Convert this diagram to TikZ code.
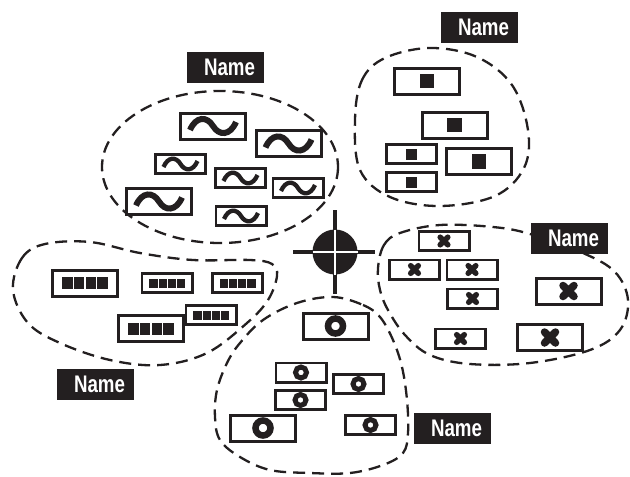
\documentclass[tikz,border=0pt]{standalone}
\usepackage{fontspec}
\newfontfamily\lblfont{Liberation Sans}
\definecolor{ink}{RGB}{35,31,32}
\begin{document}
\begin{tikzpicture}[x=1pt,y=-1pt,
  box/.style={draw=ink, line width=3pt, fill=white, inner sep=0pt},
  bigbox/.style={box, minimum width=65pt, minimum height=26pt},
  smallbox/.style={box, line width=2.6pt, minimum width=50.4pt, minimum height=19.4pt},
  blob/.style={draw=ink, line width=2.3pt, dash pattern=on 12pt off 7pt},
  lbl/.style={fill=ink, text=white, minimum width=77pt, minimum height=31pt, inner sep=0pt,
    font=\lblfont\bfseries\fontsize{24}{24}\selectfont},
  bigtilde/.pic={\draw[ink, line width=6pt] (-23,4) .. controls (-17,-10) and (-6,-10) .. (0,0) .. controls (6,10) and (17,10) .. (23,-4);},
  smalltilde/.pic={\draw[ink, line width=4.3pt] (-17,3) .. controls (-12.5,-7.5) and (-4.5,-7.5) .. (0,0) .. controls (4.5,7.5) and (12.5,7.5) .. (17,-3);},
  bigsq/.pic={\fill[ink] (-7.2,-7.2) rectangle (7.2,7.2);},
  smallsq/.pic={\fill[ink] (-5.5,-5.5) rectangle (5.5,5.5);},
  bigbar/.pic={\fill[ink] (-23,-6) rectangle (23,6);
    \draw[white, line width=1.2pt] (-11.5,-6) -- (-11.5,6) (0,-6) -- (0,6) (11.5,-6) -- (11.5,6);},
  smallbar/.pic={\fill[ink] (-18,-4.5) rectangle (18,4.5);
    \draw[white, line width=1pt] (-9,-4.5) -- (-9,4.5) (0,-4.5) -- (0,4.5) (9,-4.5) -- (9,4.5);},
  bigx/.pic={\draw[ink, line width=7.5pt, line cap=round] (-5.5,-5.5) -- (5.5,5.5) (-5.5,5.5) -- (5.5,-5.5);},
  smallx/.pic={\draw[ink, line width=5.5pt, line cap=round] (-3.8,-3.8) -- (3.8,3.8) (-3.8,3.8) -- (3.8,-3.8);},
  bigring/.pic={\draw[ink, line width=6.5pt] (0,0) circle[radius=7.5];},
  smallring/.pic={\draw[ink, line width=5pt] (0,0) circle[radius=5.5];}
]
\useasboundingbox[fill=white] (0,0) rectangle (630,477);

% ---- dashed group outlines ----
\draw[blob] (220,167) ellipse[x radius=118, y radius=76];
\draw[blob] plot[smooth cycle, tension=0.6] coordinates {(355,120) (362,80) (385,58) (430,48) (477,57) (512,85) (528,130) (524,168) (495,196) (440,206) (390,197) (360,170)};
\draw[blob] plot[smooth cycle, tension=0.6] coordinates {(13,290) (22,258) (45,244) (90,242) (140,253) (193,260) (250,260) (272,264) (277,276) (268,300) (247,323) (207,353) (160,365) (110,360) (60,343) (28,323)};
\draw[blob] plot[smooth cycle, tension=0.6] coordinates {(378,268) (384,245) (400,233) (440,225) (493,227) (530,234) (583,253) (615,272) (628,300) (620,330) (590,350) (530,363) (470,364) (430,355) (405,335) (388,310) (380,290)};
\draw[blob] plot[smooth cycle, tension=0.6] coordinates {(333,297) (363,305) (380,317) (393,340) (402,367) (407,400) (408,433) (403,453) (383,465) (350,473) (310,473) (270,470) (240,457) (220,440) (215,417) (217,390) (227,363) (240,343) (263,320) (297,303)};

% ---- tilde group ----
\node[bigbox] (t1) at (213,126) {};
\node[bigbox] (t2) at (288.5,143.5) {};
\node[smallbox] (t3) at (180.5,164) {};
\node[smallbox] (t4) at (240.5,178) {};
\node[smallbox] (t5) at (298,188) {};
\node[bigbox] (t6) at (159,201.5) {};
\node[smallbox] (t7) at (241,216) {};
\pic at (t1) {bigtilde}; \pic at (t2) {bigtilde}; \pic at (t6) {bigtilde};
\pic at (t3) {smalltilde}; \pic at (t4) {smalltilde}; \pic at (t5) {smalltilde}; \pic at (t7) {smalltilde};

% ---- square group ----
\node[bigbox] (s1) at (427,81) {};
\node[bigbox] (s2) at (454.5,125) {};
\node[smallbox] (s3) at (411.5,154) {};
\node[bigbox] (s4) at (479,161.5) {};
\node[smallbox] (s5) at (411.5,182) {};
\pic at (s1) {bigsq}; \pic at (s2) {bigsq}; \pic at (s4) {bigsq};
\pic at (s3) {smallsq}; \pic at (s5) {smallsq};

% ---- bar group ----
\node[bigbox] (b1) at (85,283) {};
\node[smallbox] (b2) at (167,283) {};
\node[smallbox] (b3) at (237.5,283) {};
\node[bigbox] (b5) at (151,328.5) {};
\node[smallbox] (b4) at (211,315) {};
\pic at (b1) {bigbar}; \pic at (b5) {bigbar};
\pic at (b2) {smallbar}; \pic at (b3) {smallbar}; \pic at (b4) {smallbar};

% ---- cross group ----
\node[smallbox] (x1) at (444,241) {};
\node[smallbox] (x2) at (414.5,269.5) {};
\node[smallbox] (x3) at (472,269.5) {};
\node[smallbox] (x4) at (472.5,298.5) {};
\node[bigbox] (x5) at (568.5,291) {};
\node[smallbox] (x6) at (460.5,338.5) {};
\node[bigbox] (x7) at (550,337.5) {};
\pic at (x1) {smallx}; \pic at (x2) {smallx}; \pic at (x3) {smallx}; \pic at (x4) {smallx}; \pic at (x6) {smallx};
\pic at (x5) {bigx}; \pic at (x7) {bigx};

% ---- ring group ----
\node[bigbox] (c1) at (335.5,326) {};
\node[smallbox] (c2) at (301,372.5) {};
\node[smallbox] (c3) at (358.5,384) {};
\node[smallbox] (c4) at (300.5,400) {};
\node[bigbox] (c5) at (263,428) {};
\node[smallbox] (c6) at (370.5,425) {};
\pic at (c1) {bigring}; \pic at (c5) {bigring};
\pic at (c2) {smallring}; \pic at (c3) {smallring}; \pic at (c4) {smallring}; \pic at (c6) {smallring};

% ---- crosshair ----
\coordinate (cc) at (335,252);
\fill[ink] (cc) circle[radius=22.5];
\draw[ink, line width=4.7pt] (cc) ++(-42,0) -- ++(82,0);
\draw[ink, line width=4.7pt] (cc) ++(0,-42) -- ++(0,84);
\draw[white, line width=1.8pt] (cc) ++(-22.5,0) -- ++(45,0);
\draw[white, line width=1.8pt] (cc) ++(0,-22.5) -- ++(0,45);

% ---- labels ----
\node[lbl] (lt) at (225.5,67) {\hspace*{8pt}\scalebox{0.78}[1]{Name}};
\node[lbl] (ls) at (479.5,27.5) {\hspace*{8pt}\scalebox{0.78}[1]{Name}};
\node[lbl] (lb) at (95.5,384.5) {\hspace*{8pt}\scalebox{0.78}[1]{Name}};
\node[lbl] (lx) at (569.5,238) {\hspace*{8pt}\scalebox{0.78}[1]{Name}};
\node[lbl] (lc) at (452.5,428.5) {\hspace*{8pt}\scalebox{0.78}[1]{Name}};
\end{tikzpicture}
\end{document}
